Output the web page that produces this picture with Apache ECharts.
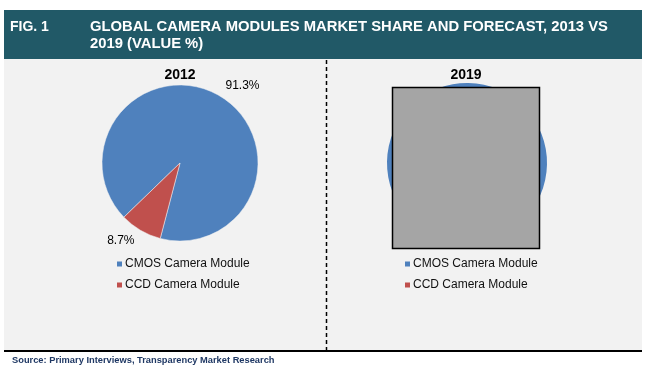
<!DOCTYPE html>
<html>
<head>
<meta charset="utf-8">
<script src="https://cdn.jsdelivr.net/npm/echarts@6/dist/echarts.min.js"></script>
<style>
html,body{margin:0;padding:0;background:#fff;}
#chart{width:650px;height:385px;}
</style>
</head>
<body>
<div id="chart"></div>
<script>
// ---- data ----
var categories = ['CMOS Camera Module', 'CCD Camera Module'];
var values2012 = [91.3, 8.7];
var values2019 = [95.0, 5.0]; // hidden behind placeholder in the reference
var panelTitles = ['2012', '2019'];
var figLabel = 'FIG. 1';
var headerLines = ['GLOBAL CAMERA MODULES MARKET SHARE AND FORECAST, 2013 VS', '2019 (VALUE %)'];
var sourceText = 'Source: Primary Interviews, Transparency Market Research';

var colors = ['#4f81bd', '#c0504d'];
var chart = echarts.init(document.getElementById('chart'), null, {renderer: 'canvas'});

function toData(vals) {
  return categories.map(function (c, i) { return {name: c, value: vals[i]}; });
}

var legendText = {fontFamily: 'Arial, "Liberation Sans", sans-serif', fontSize: 12, color: '#111', padding: [0,0,0,-3]};

var option = {
  animation: false,
  color: colors,
  title: [
    {text: panelTitles[0], left: 180, top: 68, textAlign: 'center', padding: 0,
     textStyle: {fontFamily: 'Arial, "Liberation Sans", sans-serif', fontSize: 14, fontWeight: 'bold', color: '#000'}},
    {text: panelTitles[1], left: 466, top: 68, textAlign: 'center', padding: 0,
     textStyle: {fontFamily: 'Arial, "Liberation Sans", sans-serif', fontSize: 14, fontWeight: 'bold', color: '#000'}}
  ],
  legend: [
    {seriesIndex: 0, data: categories, orient: 'vertical', left: 115, top: 258, itemWidth: 7, itemHeight: 7,
     itemGap: 9, padding: 0, icon: 'rect', selectedMode: false, textStyle: legendText},
    {data: categories, orient: 'vertical', left: 403, top: 258, itemWidth: 7, itemHeight: 7,
     itemGap: 9, padding: 0, icon: 'rect', selectedMode: false, textStyle: legendText}
  ],
  graphic: [
    {type: 'rect', z: -10, shape: {x: 4, y: 10, width: 638, height: 49}, style: {fill: '#215967'}},
    {type: 'rect', z: -10, shape: {x: 4, y: 59, width: 638, height: 291}, style: {fill: '#f2f2f2'}},
    {type: 'rect', z: -9, shape: {x: 4, y: 350, width: 638, height: 2}, style: {fill: '#000'}},
    {type: 'line', z: -9, shape: {x1: 326.5, y1: 60, x2: 326.5, y2: 350},
     style: {stroke: '#000', lineWidth: 1.5, lineDash: [4, 3]}},
    {type: 'text', z: 5, x: 10, y: 27, style: {text: figLabel, fill: '#fff', font: 'bold 14px Arial, "Liberation Sans", sans-serif', verticalAlign: 'middle'}},
    {type: 'text', z: 5, x: 90, y: 27, style: {text: headerLines[0], fill: '#fff', font: 'bold 14.8px Arial, "Liberation Sans", sans-serif', verticalAlign: 'middle'}},
    {type: 'text', z: 5, x: 90, y: 44, style: {text: headerLines[1], fill: '#fff', font: 'bold 14.8px Arial, "Liberation Sans", sans-serif', verticalAlign: 'middle'}},
    {type: 'text', z: 5, x: 12, y: 360, style: {text: sourceText, fill: '#1f3864', font: 'bold 9.3px "Liberation Sans Narrow", "Arial Narrow", Arial, sans-serif', verticalAlign: 'middle'}},
    {type: 'rect', z: 100, shape: {x: 392.5, y: 87.5, width: 147, height: 161}, style: {fill: '#a5a5a5', stroke: '#000', lineWidth: 1.5}}
  ],
  series: [
    {
      type: 'pie', center: [180, 163], radius: 78, startAngle: 224, clockwise: true,
      data: toData(values2012),
      itemStyle: {borderColor: '#f2f2f2', borderWidth: 0.5},
      label: {show: true, position: 'outside', formatter: '{c}%', distanceToLabelLine: 0,
              fontFamily: 'Arial, "Liberation Sans", sans-serif', fontSize: 12, color: '#000'},
      labelLine: {show: false, length: 12, length2: 0},
      emphasis: {disabled: true}
    },
    {
      type: 'pie', center: [467, 163], radius: 80, startAngle: 224, clockwise: true,
      data: toData(values2019),
      label: {show: false},
      labelLine: {show: false},
      emphasis: {disabled: true}
    }
  ]
};
chart.setOption(option);
</script>
</body>
</html>
